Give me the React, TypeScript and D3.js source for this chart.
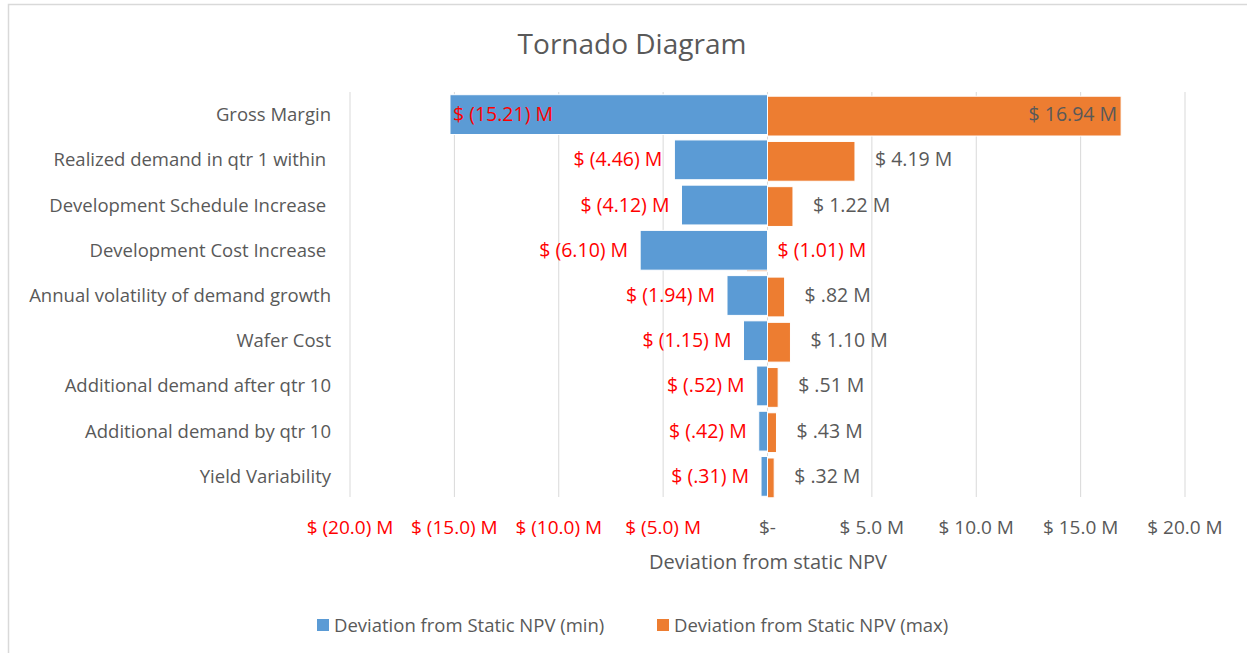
import React from "react";
import * as d3 from "d3";

const categories = [
  "Gross Margin",
  "Realized demand in qtr 1 within ",
  "Development Schedule Increase ",
  "Development Cost Increase ",
  "Annual volatility of demand growth",
  "Wafer Cost",
  "Additional demand after qtr 10",
  "Additional demand by qtr 10",
  "Yield Variability",
];
const minValues = [-15.21, -4.46, -4.12, -6.1, -1.94, -1.15, -0.52, -0.42, -0.31];
const maxValues = [16.94, 4.19, 1.22, -1.01, 0.82, 1.1, 0.51, 0.43, 0.32];
const minLabels = ["$ (15.21) M", "$ (4.46) M", "$ (4.12) M", "$ (6.10) M", "$ (1.94) M", "$ (1.15) M", "$ (.52) M", "$ (.42) M", "$ (.31) M"];
const maxLabels = ["$ 16.94 M", "$ 4.19 M", "$ 1.22 M", "$ (1.01) M", "$ .82 M", "$ 1.10 M", "$ .51 M", "$ .43 M", "$ .32 M"];
const tickValues = [-20, -15, -10, -5, 0, 5, 10, 15, 20];
const tickLabels = ["$ (20.0) M", "$ (15.0) M", "$ (10.0) M", "$ (5.0) M", "$-", "$ 5.0 M", "$ 10.0 M", "$ 15.0 M", "$ 20.0 M"];
const seriesNames = ["Deviation from Static NPV (min)", "Deviation from Static NPV (max)"];

const BLUE = "#5B9BD5";
const ORANGE = "#ED7D31";
const GRID = "#D9D9D9";
const TEXT = "#595959";
const RED = "#FF0000";
const FONT = "'Open Sans', Lato, sans-serif";

export default function App() {
  const x = d3.scaleLinear().domain([-20, 20]).range([350, 1185]);
  const y = d3.scaleBand<string>().domain(categories).range([92, 499]).paddingInner(0.12).paddingOuter(0.06);
  const bw = y.bandwidth();
  const x0 = x(0);

  return (
    <svg width={1247} height={653} style={{ position: "absolute", left: 0, top: 0, background: "#fff" }} fontFamily={FONT}>
      <rect x={8.5} y={4.5} width={1260} height={670} fill="#fff" stroke={GRID} strokeWidth={1.5} />
      <text x={632} y={54} textAnchor="middle" fontSize={28} fill={TEXT}>Tornado Diagram</text>

      {tickValues.map((t) => (
        <line key={t} x1={x(t)} x2={x(t)} y1={92} y2={497} stroke={GRID} strokeWidth={1} />
      ))}

      {categories.map((c, i) => {
        const yy = y(c)!;
        const vMax = maxValues[i];
        const vMin = minValues[i];
        return (
          <g key={c}>
            <rect x={Math.min(x0, x(vMax))} y={yy + 1.5} width={Math.abs(x(vMax) - x0)} height={bw} fill={ORANGE} stroke="#fff" strokeWidth={1} />
            <rect x={x(vMin)} y={yy} width={x0 - x(vMin)} height={bw} fill={BLUE} stroke="#fff" strokeWidth={1} />
          </g>
        );
      })}

      {categories.map((c, i) => {
        const cy = y(c)! + bw / 2 + 6.5;
        const vMin = minValues[i];
        const vMax = maxValues[i];
        const inside = i === 0;
        const minX = inside ? x(vMin) + 3 : x(vMin) - 12;
        const maxX = inside ? x(vMax) - 4 : vMax < 0 ? x0 + 10 : x(vMax) + 20;
        return (
          <g key={"l" + c}>
            <text x={331} y={cy} textAnchor="end" fontSize={18.5} fill={TEXT} style={{ whiteSpace: "pre" }}>{c}</text>
            <text x={minX} y={cy} textAnchor={inside ? "start" : "end"} fontSize={19.5} fill={RED}>{minLabels[i]}</text>
            <text x={maxX} y={cy} textAnchor={inside ? "end" : "start"} fontSize={19.5} fill={vMax < 0 ? RED : TEXT}>{maxLabels[i]}</text>
          </g>
        );
      })}

      {tickValues.map((t, i) => (
        <text key={"t" + t} x={x(t)} y={534} textAnchor="middle" fontSize={19} fill={t < 0 ? RED : TEXT}>{tickLabels[i]}</text>
      ))}

      <text x={768} y={569} textAnchor="middle" fontSize={20} fill={TEXT}>Deviation from static NPV</text>

      <g fontSize={18.5}>
        <rect x={317} y={619} width={12} height={12} fill={BLUE} />
        <text x={334} y={632} fill={TEXT}>{seriesNames[0]}</text>
        <rect x={657} y={619} width={12} height={12} fill={ORANGE} />
        <text x={674} y={632} fill={TEXT}>{seriesNames[1]}</text>
      </g>
    </svg>
  );
}
